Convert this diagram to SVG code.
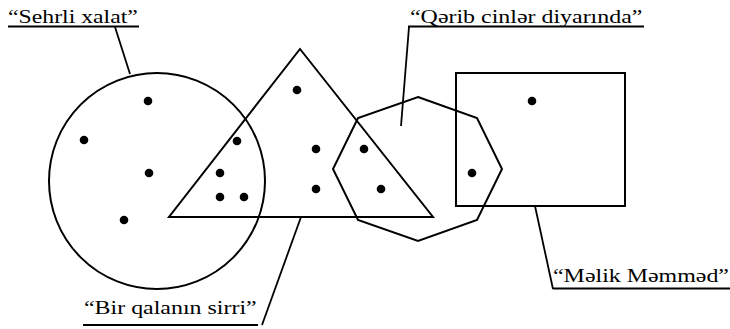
<svg xmlns="http://www.w3.org/2000/svg" width="730" height="329" viewBox="0 0 730 329">
  <style>
    .shape { fill: none; stroke: #000; stroke-width: 2; }
    .lead { fill: none; stroke: #000; stroke-width: 1.8; }
    .ul { stroke: #000; stroke-width: 2; }
    .dot { fill: #000; }
    .lbl { font-family: 'Liberation Serif', 'Times New Roman', serif; font-size: 18px; fill: #000; }
  </style>
  <rect width="730" height="329" fill="#fff"/>

  <!-- sets -->
  <g id="sehrli-xalat">
    <circle class="shape" cx="157" cy="181" r="108"/>
  </g>
  <g id="bir-qalanin-sirri">
    <polygon class="shape" points="300,49 433,217 169,217"/>
  </g>
  <g id="qerib-cinler-diyarinda">
    <polygon class="shape" points="418,97 477,118 502,169 477,220 418,241 358,220 333,169 358,118"/>
  </g>
  <g id="melik-memmed">
    <rect class="shape" x="456" y="73" width="169" height="133"/>
  </g>

  <!-- elements -->
  <g id="points">
    <circle class="dot" cx="148" cy="101" r="4.3"/>
    <circle class="dot" cx="84" cy="140" r="4.3"/>
    <circle class="dot" cx="149" cy="173" r="4.3"/>
    <circle class="dot" cx="124" cy="220" r="4.3"/>
    <circle class="dot" cx="297" cy="90" r="4.3"/>
    <circle class="dot" cx="237" cy="141" r="4.3"/>
    <circle class="dot" cx="220" cy="173" r="4.3"/>
    <circle class="dot" cx="220" cy="197" r="4.3"/>
    <circle class="dot" cx="244" cy="197" r="4.3"/>
    <circle class="dot" cx="316" cy="149" r="4.3"/>
    <circle class="dot" cx="316" cy="189" r="4.3"/>
    <circle class="dot" cx="364" cy="149" r="4.3"/>
    <circle class="dot" cx="381" cy="189" r="4.3"/>
    <circle class="dot" cx="532" cy="101" r="4.3"/>
    <circle class="dot" cx="472" cy="173" r="4.3"/>
  </g>

  <!-- leader lines -->
  <g id="connectors">
    <line class="lead" x1="115" y1="27" x2="130" y2="74"/>
    <line class="lead" x1="409" y1="27" x2="401" y2="126"/>
    <line class="lead" x1="535" y1="206" x2="553" y2="289"/>
    <line class="lead" x1="301" y1="217" x2="262" y2="325"/>
  </g>

  <!-- labels: wide-set serif captions, underlined -->
  <g id="label-sehrli">
    <text class="lbl" transform="translate(8 23) scale(1.32 1)">“Sehrli xalat”</text>
    <line class="ul" x1="8" y1="26.5" x2="139" y2="26.5"/>
  </g>
  <g id="label-qerib">
    <text class="lbl" transform="translate(410 23) scale(1.33 1)">“Qərib cinlər diyarında”</text>
    <line class="ul" x1="408" y1="26.5" x2="644" y2="26.5"/>
  </g>
  <g id="label-melik">
    <text class="lbl" transform="translate(553 282) scale(1.33 1)">“Məlik Məmməd”</text>
    <line class="ul" x1="553" y1="288.5" x2="730" y2="288.5"/>
  </g>
  <g id="label-bir">
    <text class="lbl" transform="translate(84 314) scale(1.33 1)">“Bir qalanın sirri”</text>
    <line class="ul" x1="83" y1="325" x2="258" y2="325"/>
  </g>
</svg>
